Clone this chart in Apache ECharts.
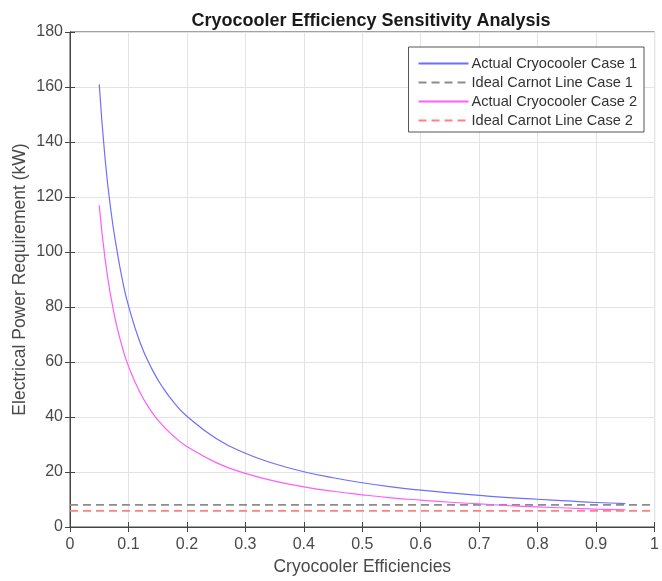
<!DOCTYPE html>
<html>
<head>
<meta charset="utf-8">
<script src="https://cdn.jsdelivr.net/npm/echarts@6/dist/echarts.min.js"></script>
<style>
html, body { margin: 0; padding: 0; background: #fff; }
#main { width: 662px; height: 581px; }
</style>
</head>
<body>
<div id="main"></div>
<script>
// efficiencies sampled along the curves
var effs = [0.05, 0.06, 0.07, 0.08, 0.09, 0.1, 0.12, 0.14, 0.16, 0.18, 0.2, 0.25, 0.3, 0.35, 0.4, 0.45, 0.5, 0.55, 0.6, 0.65, 0.7, 0.75, 0.8, 0.85, 0.9, 0.95];
// power (kW)
var actualCase1 = [161, 134, 115, 101, 89.5, 80.5, 67, 57.5, 50.3, 44.7, 40.3, 32.2, 26.8, 23, 20.1, 17.9, 16.1, 14.6, 13.4, 12.4, 11.5, 10.7, 10.1, 9.5, 8.9, 8.5];
var actualCase2 = [117, 97.5, 83.6, 73.1, 65, 58.5, 48.8, 41.8, 36.6, 32.5, 29.3, 23.4, 19.5, 16.7, 14.6, 13, 11.7, 10.6, 9.75, 9, 8.4, 7.8, 7.3, 6.9, 6.5, 6.2];
var idealCase1 = 8.05;
var idealCase2 = 5.85;
var idealRange = [0, 1];

var names = ['Actual Cryocooler Case 1', 'Ideal Carnot Line Case 1', 'Actual Cryocooler Case 2', 'Ideal Carnot Line Case 2'];

function pairs(xs, ys) {
    return xs.map(function (x, i) { return [x, ys[i]]; });
}

var chart = echarts.init(document.getElementById('main'));
var txt = '#4a4a4a';
var fnt = 'Liberation Sans, Arial, sans-serif';

var option = {
    animation: false,
    title: {
        text: 'Cryocooler Efficiency Sensitivity Analysis',
        left: 366, top: 7, textAlign: 'center',
        textStyle: { fontSize: 18, fontWeight: 'bold', color: '#1a1a1a', fontFamily: fnt }
    },
    legend: {
        data: names,
        orient: 'vertical',
        right: 18, top: 47,
        padding: [9, 7, 4, 9],
        itemGap: 4,
        itemWidth: 50, itemHeight: 14,
        borderColor: '#555', borderWidth: 1,
        backgroundColor: '#fff',
        itemStyle: { opacity: 0 },
        textStyle: { fontSize: 14.6, color: '#333', fontFamily: fnt, padding: [0, 0, 0, -2] }
    },
    grid: {
        left: 70, right: 4, top: 32, bottom: 54,
        show: true, borderColor: '#444', borderWidth: 1
    },
    xAxis: [{
        type: 'value', min: 0, max: 1, interval: 0.1,
        name: 'Cryocooler Efficiencies', nameLocation: 'middle', nameGap: 31,
        nameTextStyle: { fontSize: 17.5, color: txt, fontFamily: fnt },
        axisLine: { lineStyle: { color: '#444' } },
        axisTick: { inside: true, length: 5, lineStyle: { color: '#444' } },
        axisLabel: { fontSize: 16, color: txt, fontFamily: fnt, margin: 10,
            formatter: function (v) { return v === 0 || v === 1 ? String(v) : v.toFixed(1); } },
        splitLine: { lineStyle: { color: '#e3e3e3' } }
    }, {
        type: 'value', min: 0, max: 1, interval: 0.1, position: 'top',
        axisLine: { lineStyle: { color: '#444' } },
        axisTick: { inside: true, length: 5, lineStyle: { color: '#444' } },
        axisLabel: { show: false }, splitLine: { show: false }
    }],
    yAxis: [{
        type: 'value', min: 0, max: 180, interval: 20,
        name: 'Electrical Power Requirement (kW)', nameLocation: 'middle', nameGap: 41,
        nameMoveOverlap: false,
        nameTextStyle: { fontSize: 17.5, color: txt, fontFamily: fnt },
        axisLine: { show: true, lineStyle: { color: '#444' } },
        axisTick: { show: true, inside: true, length: 5, lineStyle: { color: '#444' } },
        axisLabel: { fontSize: 16, color: txt, fontFamily: fnt, margin: 7 },
        splitLine: { lineStyle: { color: '#e3e3e3' } }
    }, {
        type: 'value', min: 0, max: 180, interval: 20, position: 'right',
        axisLine: { show: true, lineStyle: { color: '#444' } },
        axisTick: { show: true, inside: true, length: 5, lineStyle: { color: '#444' } },
        axisLabel: { show: false }, splitLine: { show: false }
    }],
    series: [{
        name: names[0], type: 'line', smooth: true, showSymbol: false, symbol: 'none',
        data: pairs(effs, actualCase1),
        lineStyle: { color: '#6e6eff', width: 1.2 }, itemStyle: { color: '#6e6eff' }
    }, {
        name: names[1], type: 'line', showSymbol: false, symbol: 'none',
        data: pairs(idealRange, [idealCase1, idealCase1]),
        lineStyle: { color: '#8c8c8c', width: 1.6, type: [8, 5] }, itemStyle: { color: '#8c8c8c' }
    }, {
        name: names[2], type: 'line', smooth: true, showSymbol: false, symbol: 'none',
        data: pairs(effs, actualCase2),
        lineStyle: { color: '#ff5cff', width: 1.2 }, itemStyle: { color: '#ff5cff' }
    }, {
        name: names[3], type: 'line', showSymbol: false, symbol: 'none',
        data: pairs(idealRange, [idealCase2, idealCase2]),
        lineStyle: { color: '#ff8080', width: 1.6, type: [8, 5] }, itemStyle: { color: '#ff8080' }
    }]
};
chart.setOption(option);
</script>
</body>
</html>
